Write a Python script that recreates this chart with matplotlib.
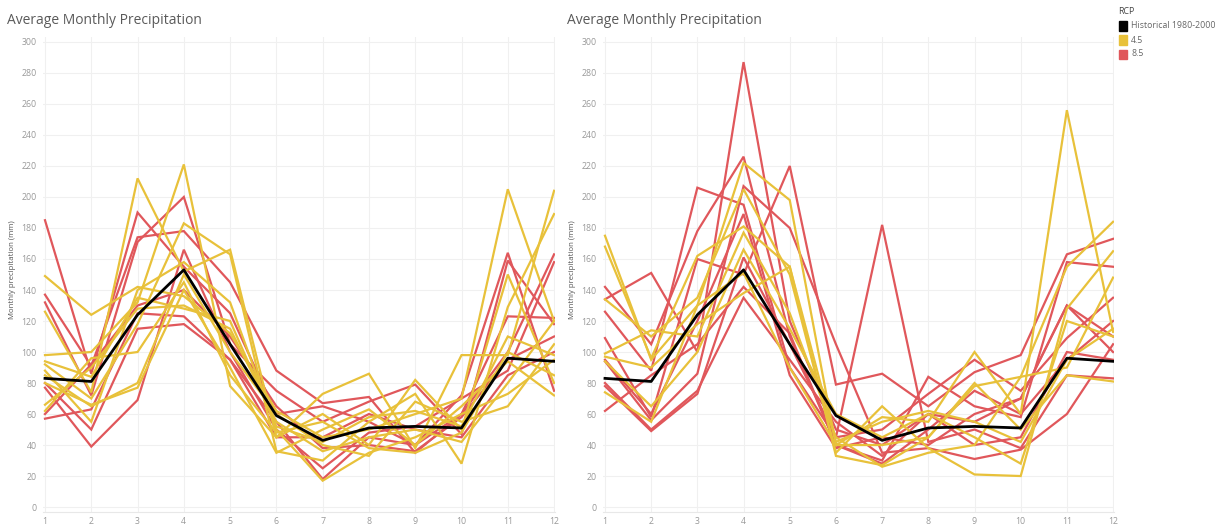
import matplotlib.pyplot as plt
from matplotlib.patches import Rectangle

months = [1, 2, 3, 4, 5, 6, 7, 8, 9, 10, 11, 12]
y_ticks = list(range(0, 301, 20))

# Historical average 1980-2000 (same reference in both panels)
historical = [83, 81, 124, 153, 105, 59, 43, 51, 52, 51, 96, 94]

# Left panel, RCP 4.5 runs
left_45 = [
    [149, 124, 142, 136, 112, 62, 45, 50, 60, 70, 205, 120],
    [126, 74, 212, 152, 166, 45, 60, 40, 82, 50, 150, 80],
    [98, 100, 132, 221, 78, 45, 73, 86, 38, 98, 98, 204],
    [92, 70, 118, 183, 163, 36, 30, 55, 73, 28, 129, 189],
    [88, 55, 140, 158, 132, 50, 17, 35, 45, 60, 73, 95],
    [85, 65, 80, 150, 100, 60, 40, 33, 68, 55, 65, 105],
    [80, 66, 77, 140, 90, 35, 50, 63, 40, 65, 94, 72],
    [66, 90, 128, 130, 115, 55, 36, 45, 50, 42, 80, 120],
    [62, 96, 100, 145, 85, 48, 55, 38, 35, 48, 100, 85],
    [94, 84, 135, 128, 120, 52, 42, 58, 62, 52, 110, 98],
]

# Left panel, RCP 8.5 runs
left_85 = [
    [185, 86, 190, 155, 125, 60, 65, 55, 40, 72, 164, 75],
    [137, 91, 174, 178, 145, 88, 67, 71, 35, 60, 123, 122],
    [132, 72, 171, 200, 105, 75, 55, 68, 79, 47, 159, 118],
    [80, 50, 115, 118, 95, 55, 18, 45, 40, 60, 100, 163],
    [77, 39, 69, 166, 100, 50, 25, 48, 52, 70, 88, 158],
    [60, 92, 130, 140, 110, 65, 38, 40, 36, 58, 95, 110],
    [57, 63, 125, 123, 95, 45, 45, 60, 50, 45, 85, 100],
]

# Right panel, RCP 4.5 runs
right_45 = [
    [175, 95, 130, 222, 198, 40, 58, 55, 100, 60, 256, 113],
    [168, 96, 162, 181, 155, 33, 27, 45, 78, 84, 155, 184],
    [134, 110, 135, 205, 150, 35, 65, 38, 21, 20, 128, 165],
    [99, 114, 110, 177, 125, 45, 26, 35, 40, 84, 90, 148],
    [94, 65, 100, 166, 115, 60, 45, 60, 45, 28, 120, 110],
    [74, 55, 130, 151, 90, 40, 40, 45, 80, 50, 85, 81],
    [97, 90, 118, 138, 155, 42, 55, 62, 55, 42, 95, 115],
]

# Right panel, RCP 8.5 runs
right_85 = [
    [134, 151, 100, 287, 120, 50, 40, 60, 55, 70, 130, 100],
    [142, 105, 178, 226, 110, 40, 30, 84, 65, 58, 158, 155],
    [126, 88, 206, 195, 90, 45, 50, 73, 95, 75, 109, 135],
    [109, 58, 160, 150, 220, 79, 86, 65, 87, 98, 163, 173],
    [94, 56, 86, 207, 180, 105, 35, 38, 31, 37, 60, 105],
    [78, 49, 73, 161, 105, 45, 182, 42, 50, 38, 85, 83],
    [62, 85, 105, 142, 112, 40, 28, 50, 75, 60, 95, 120],
    [95, 60, 120, 189, 85, 38, 45, 40, 60, 70, 130, 110],
    [80, 50, 75, 135, 95, 55, 33, 60, 40, 45, 100, 95],
]

legend_title = 'RCP'
legend_labels = ['Historical 1980-2000', '4.5', '8.5']
title = 'Average Monthly Precipitation'
y_label = 'Monthly precipitation (mm)'

c_hist = '#000000'
c_45 = '#E8C13A'
c_85 = '#E0575B'

plt.rcParams['font.family'] = ['Open Sans', 'DejaVu Sans']

W, H = 1225, 529
fig = plt.figure(figsize=(W / 100, H / 100), dpi=100)


def px_axes(x0, x1, top, bottom):
    return fig.add_axes([x0 / W, 1 - bottom / H, (x1 - x0) / W, (bottom - top) / H])


def draw_panel(ax, runs_45, runs_85, x_left):
    for run in runs_85:
        ax.plot(months, run, color=c_85, lw=1.6, solid_joinstyle='miter')
    for run in runs_45:
        ax.plot(months, run, color=c_45, lw=1.6, solid_joinstyle='miter')
    ax.plot(months, historical, color=c_hist, lw=2.0, zorder=5)

    ax.set_xlim(0.957, 12.02)
    ax.set_ylim(-3.2, 303.2)
    ax.set_xticks(months)
    ax.set_yticks(y_ticks)
    ax.tick_params(length=0, labelsize=6.3, labelcolor='#999999')
    ax.tick_params(axis='y', pad=4.5)
    ax.tick_params(axis='x', pad=3.5)
    ax.grid(True, color='#f0f0f0', lw=0.8)
    ax.set_axisbelow(True)
    for s in ['top', 'right', 'left']:
        ax.spines[s].set_visible(False)
    ax.spines['bottom'].set_color('#e8e8e8')

    fig.text((x_left - 36) / W, 1 - 20 / H, title, fontsize=10, color='#5a5a5a',
             ha='left', va='center')
    fig.text((x_left - 30) / W, 1 - 270 / H, y_label, fontsize=5.6, color='#555555',
             rotation=90, ha='center', va='center')


ax1 = px_axes(43, 555, 37, 512)
draw_panel(ax1, left_45, left_85, 43)

ax2 = px_axes(603, 1114, 37, 512)
draw_panel(ax2, right_45, right_85, 603)

# legend
fig.text(1118 / W, 1 - 12 / H, legend_title, fontsize=6.3, color='#444444', ha='left', va='center')
for i, (lab, col) in enumerate(zip(legend_labels, [c_hist, c_45, c_85])):
    yc = 26 + i * 14
    fig.patches.append(Rectangle((1119 / W, 1 - (yc + 4.5) / H), 8 / W, 9 / H,
                                 transform=fig.transFigure, color=col))
    fig.text(1131 / W, 1 - yc / H, lab, fontsize=6.3, color='#666666', ha='left', va='center')

fig.savefig('out.png', dpi=100)
